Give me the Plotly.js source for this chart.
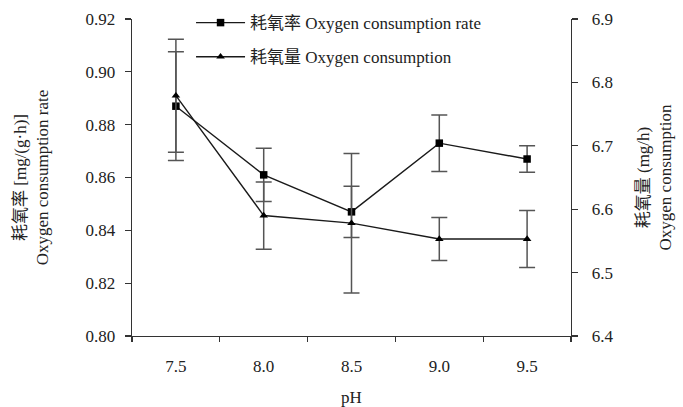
<!DOCTYPE html>
<html>
<head>
<meta charset="utf-8">
<script src="https://cdn.plot.ly/plotly-3.0.1.min.js"></script>
<style>html,body{margin:0;padding:0;background:#fff;}#chart{width:683px;height:407px;}</style>
</head>
<body>
<div id="chart"></div>
<script>
const pH = ['7.5', '8.0', '8.5', '9.0', '9.5'];
const rateValues = [0.887, 0.861, 0.847, 0.873, 0.867];
const rateErrors = [0.0206, 0.0101, 0.0097, 0.0107, 0.0050];
const consumptionValues = [6.779, 6.590, 6.578, 6.553, 6.553];
const consumptionErrors = [0.089, 0.053, 0.110, 0.034, 0.045];
const rateName = '耗氧率 Oxygen consumption rate';
const consumptionName = '耗氧量 Oxygen consumption';

const FONT = 'Liberation Serif, "Noto Sans CJK SC", serif';

const traces = [
  {
    x: pH, y: rateValues, name: rateName, type: 'scatter', mode: 'lines+markers',
    legendgroup: 'a',
    line: {color: '#1a1a1a', width: 1.4},
    marker: {symbol: 'square', size: 7.5, color: '#000'},
    error_y: {type: 'data', array: rateErrors, visible: true, color: '#555', thickness: 1.5, width: 8}
  },
  {
    x: pH, y: consumptionValues, name: consumptionName, type: 'scatter', mode: 'lines+markers',
    yaxis: 'y2', legendgroup: 'b',
    line: {color: '#1a1a1a', width: 1.4},
    marker: {symbol: 'triangle-up', size: 7.5, color: '#000'},
    error_y: {type: 'data', array: consumptionErrors, visible: true, color: '#555', thickness: 1.5, width: 8}
  }
];

const layout = {
  width: 683, height: 407,
  margin: {l: 132, r: 112, t: 19, b: 71, pad: 0, autoexpand: false},
  paper_bgcolor: '#fff', plot_bgcolor: '#fff',
  font: {family: FONT, size: 17, color: '#222'},
  showlegend: true,
  legend: {
    x: 0.1345, y: 1.044, xanchor: 'left', yanchor: 'top',
    bgcolor: 'rgba(0,0,0,0)', borderwidth: 0,
    font: {family: FONT, size: 17, color: '#222'},
    tracegroupgap: 9, itemwidth: 49
  },
  xaxis: {
    type: 'category', tickson: 'boundaries', range: [-0.5, 4.5],
    showline: true, linecolor: '#333', linewidth: 1.3, mirror: false,
    showgrid: false, zeroline: false,
    ticks: 'outside', ticklen: 5, tickwidth: 1.3, tickcolor: '#333',
    ticklabelstandoff: 14,
    tickfont: {family: FONT, size: 17, color: '#222'},
    title: {text: 'pH', font: {family: FONT, size: 17, color: '#222'}, standoff: 19}
  },
  yaxis: {
    range: [0.80, 0.92], dtick: 0.02, tickformat: '.2f',
    showline: true, linecolor: '#333', linewidth: 1.3,
    showgrid: false, zeroline: false,
    ticks: 'outside', ticklen: 6, tickwidth: 1.3, tickcolor: '#333',
    ticklabelstandoff: 6,
    tickfont: {family: FONT, size: 17, color: '#222'},
    title: {text: '耗氧率 [mg/(g·h)]<br>Oxygen consumption rate', font: {family: FONT, size: 17, color: '#222'}, standoff: 32}
  },
  yaxis2: {
    overlaying: 'y', side: 'right',
    range: [6.4, 6.9], dtick: 0.1, tickformat: '.1f',
    showline: true, linecolor: '#333', linewidth: 1.3,
    showgrid: false, zeroline: false,
    ticks: 'outside', ticklen: 6, tickwidth: 1.3, tickcolor: '#333',
    ticklabelstandoff: 10,
    tickfont: {family: FONT, size: 17, color: '#222'},
    title: {text: '耗氧量 (mg/h)<br>Oxygen consumption', font: {family: FONT, size: 17, color: '#222'}, standoff: 24}
  }
};

Plotly.newPlot('chart', traces, layout, {displayModeBar: false, staticPlot: true});
</script>
</body>
</html>
